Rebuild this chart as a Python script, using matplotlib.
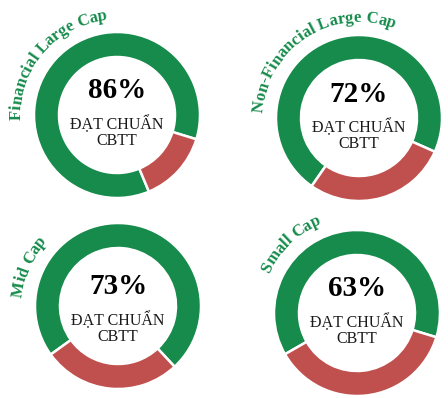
import numpy as np
import matplotlib
matplotlib.use("Agg")
import matplotlib.pyplot as plt
from matplotlib.font_manager import FontProperties

# data
groups = ["Financial Large Cap", "Non-Financial Large Cap", "Mid Cap", "Small Cap"]
passed = [86, 72, 73, 63]          # % dat chuan
label_1 = "ĐẠT CHUẨN"
label_2 = "CBTT"

# layout (pixels, y measured from top)
cx = [117, 359, 118, 357]
cy = [115, 118, 306, 313]
text_shift = [0, 0, 5, 0]            # centre text nudged down (px)
green_start = [-17, -24, -47, -17]   # where the green arc begins (deg, ccw)
title_start = [183, 177, 175, 156]   # where the curved title begins (deg)

GREEN = "#168b4b"
RED = "#c0504d"
W, H = 448, 398
R_OUT, RING = 83, 25
R_TITLE = 96

fig = plt.figure(figsize=(W / 100, H / 100), dpi=100)
ax = fig.add_axes([0, 0, 1, 1])

title_fp = FontProperties(family="Liberation Serif", weight="bold", size=12)
renderer = fig.canvas.get_renderer()


def text_w(s):
    # width in px, sentinel keeps trailing spaces
    w1, _, _ = renderer.get_text_width_height_descent(s + "|", title_fp, ismath=False)
    w0, _, _ = renderer.get_text_width_height_descent("|", title_fp, ismath=False)
    return w1 - w0


def curved_title(s, x0, y0, start_deg):
    prev = 0.0
    for i, ch in enumerate(s):
        cur = text_w(s[:i + 1])
        mid = (prev + cur) / 2
        prev = cur
        if ch == " ":
            continue
        th = np.radians(start_deg) - mid / R_TITLE
        x = x0 + R_TITLE * np.cos(th)
        y = y0 + R_TITLE * np.sin(th)
        ax.text(x, y, ch, fontproperties=title_fp, color=GREEN,
                rotation=np.degrees(th) - 90, rotation_mode="anchor",
                ha="center", va="baseline")


for i in range(4):
    x0, y0 = cx[i], H - cy[i]
    ax.pie([passed[i], 100 - passed[i]], colors=[GREEN, RED],
           center=(x0, y0), radius=R_OUT, startangle=green_start[i],
           counterclock=True,
           wedgeprops=dict(width=RING, edgecolor="white", linewidth=1.8))
    yt = y0 - text_shift[i]
    ax.text(x0, yt + 24, "%d%%" % passed[i], family="Liberation Serif",
            weight="bold", size=21, ha="center", va="center", color="black")
    ax.text(x0, yt - 9, label_1, family="Liberation Serif", size=11.5,
            ha="center", va="center", color="#1a1a1a")
    ax.text(x0, yt - 26, label_2, family="Liberation Serif", size=11.5,
            ha="center", va="center", color="#1a1a1a")
    curved_title(groups[i], x0, y0, title_start[i])

ax.set_xlim(0, W)
ax.set_ylim(0, H)
ax.set_aspect("equal")
ax.axis("off")

fig.savefig("out.png", dpi=100)
